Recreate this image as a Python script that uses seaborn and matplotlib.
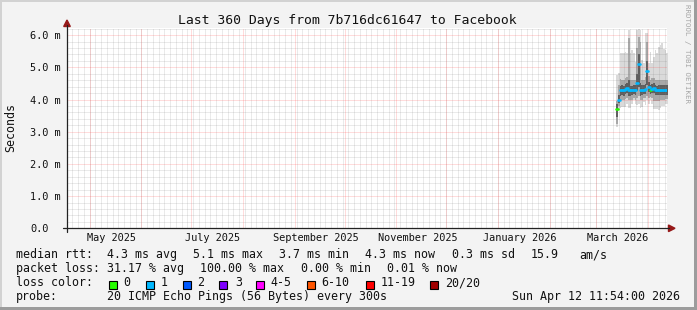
import numpy as np
import pandas as pd
import matplotlib
matplotlib.use("Agg")
import matplotlib.pyplot as plt
import matplotlib.dates as mdates
from matplotlib.patches import Rectangle, Polygon
from matplotlib.lines import Line2D
import seaborn as sns

# ---------------- data ----------------
title = "Last 360 Days from 7b716dc61647 to Facebook"
range_start = "2025-04-17 11:54"
range_end = "2026-04-12 11:54"
data_start = "2026-03-13"
n_days = 31

median_ms = [3.72, 4.00, 4.28, 4.30, 4.28, 4.33, 4.36, 4.28, 4.28, 4.29, 4.30,
             4.29, 4.50, 5.09, 4.28, 4.30, 4.31, 4.33, 4.89, 4.40, 4.30, 4.34,
             4.36, 4.30, 4.29, 4.30, 4.30, 4.30, 4.30, 4.30, 4.30]
loss_count = [0, 1, 1, 1, 1, 1, 1, 1, 1, 1, 1, 1, 1, 1, 1, 1, 1, 1, 1, 1, 0, 1,
              1, 1, 1, 1, 1, 1, 1, 1, 1]
outer_hi = [4.76, 4.81, 5.43, 5.43, 5.43, 5.48, 5.43, 6.15, 5.43, 5.53, 5.43,
            5.17, 6.15, 6.18, 6.15, 5.22, 5.12, 6.05, 6.05, 5.12, 5.48, 5.12,
            5.33, 5.53, 5.43, 5.64, 5.69, 5.74, 5.58, 5.53, 5.43]
outer_lo = [3.15, 3.67, 3.75, 3.77, 3.77, 3.77, 3.87, 3.75, 3.75, 3.87, 3.98,
            3.87, 3.82, 3.87, 3.75, 3.77, 3.93, 3.82, 3.98, 3.87, 3.98, 3.87,
            3.72, 3.72, 3.72, 3.67, 3.75, 3.79, 3.79, 3.87, 3.87]
mid_hi = [3.95, 4.45, 4.65, 4.62, 4.60, 4.66, 4.70, 5.90, 4.62, 4.60, 4.62,
          4.62, 5.60, 5.95, 5.80, 4.62, 4.62, 4.70, 5.80, 4.72, 4.62, 4.66,
          4.68, 4.62, 4.60, 4.62, 4.62, 4.62, 4.62, 4.62, 4.60]
mid_lo = [3.25, 3.80, 3.98, 4.00, 3.98, 4.02, 4.05, 3.98, 3.98, 4.00, 4.05,
          4.00, 4.05, 4.10, 3.98, 4.00, 4.05, 4.05, 4.10, 4.05, 4.08, 4.05,
          3.95, 3.95, 3.95, 3.95, 3.98, 4.00, 4.00, 4.02, 4.02]
inner_hi = [3.85, 4.15, 4.42, 4.45, 4.42, 4.48, 4.50, 4.60, 4.42, 4.42, 4.44,
            4.44, 4.80, 5.40, 4.50, 4.45, 4.46, 4.48, 5.20, 4.55, 4.44, 4.48,
            4.50, 4.44, 4.43, 4.44, 4.44, 4.44, 4.44, 4.44, 4.44]
inner_lo = [3.45, 3.88, 4.12, 4.15, 4.12, 4.18, 4.20, 4.12, 4.12, 4.14, 4.16,
            4.14, 4.25, 4.40, 4.12, 4.14, 4.16, 4.18, 4.45, 4.22, 4.16, 4.20,
            4.20, 4.15, 4.14, 4.15, 4.15, 4.15, 4.15, 4.15, 4.15]

y_ticks = [0, 1, 2, 3, 4, 5, 6]
y_tick_labels = ["0.0", "1.0 m", "2.0 m", "3.0 m", "4.0 m", "5.0 m", "6.0 m"]
x_label_dates = ["2025-05-14", "2025-07-14", "2025-09-14", "2025-11-14",
                 "2026-01-14", "2026-03-14"]
x_labels = ["May 2025", "July 2025", "September 2025", "November 2025",
            "January 2026", "March 2026"]

loss_names = ["0", "1", "2", "3", "4-5", "6-10", "11-19", "20/20"]
loss_colors = ["#26ff00", "#00b8ff", "#0059ff", "#7e00ff", "#ff00ff",
               "#ff5500", "#ff0000", "#a10000"]
loss_cat_of_count = {0: "0", 1: "1", 2: "2", 3: "3"}

legend_rows = [
    [(16, "median rtt:"), (107.3, "4.3 ms avg"), (193, "5.1 ms max"),
     (279.3, "3.7 ms min"), (365, "4.3 ms now"), (451.7, "0.3 ms sd"),
     (530.7, "15.9"), (579.3, "am/s")],
    [(16, "packet loss:"), (107.3, "31.17 % avg"), (200.5, "100.00 % max"),
     (300.7, "0.00 % min"), (386.7, "0.01 % now")],
]
loss_box_x = [108.7, 145.7, 182.7, 219.3, 256, 306.7, 366, 430]
loss_text_x = [123.3, 160.7, 197.3, 235, 270.7, 321.7, 380.7, 445]

# ---------------- figure ----------------
W, H = 697, 310
def fx(x):
    return x / W
def fy(y):
    return 1 - y / H

sns.set_theme(style="white")
plt.rcParams["font.family"] = ["DejaVu Sans Mono", "DejaVu Sans"]

fig = plt.figure(figsize=(6.97, 3.10), dpi=100, facecolor="#f3f3f3")
ax = fig.add_axes([fx(67), fy(228.3), (667 - 67) / W, (228.3 - 27.7) / H])
ax.set_facecolor("white")

t0 = mdates.date2num(pd.Timestamp(range_start))
t1 = mdates.date2num(pd.Timestamp(range_end))
days = pd.date_range(data_start, periods=n_days + 1, freq="D")
tnum = mdates.date2num(days)

# smoke
def ext(v):
    return list(v) + [v[-1]]
ax.fill_between(tnum, ext(outer_lo), ext(outer_hi), step="post",
                color="#dadada", lw=0, zorder=1)
ax.fill_between(tnum, ext(mid_lo), ext(mid_hi), step="post",
                color="#a8a8a8", lw=0, zorder=1.1)
ax.fill_between(tnum, ext(inner_lo), ext(inner_hi), step="post",
                color="#5e5e5e", lw=0, zorder=1.2)

# median segments coloured by loss
rows = []
for i, m in enumerate(median_ms):
    cat = loss_cat_of_count[loss_count[i]]
    rows.append({"t": tnum[i], "ms": m, "seg": i, "loss": cat})
    rows.append({"t": tnum[i + 1], "ms": m, "seg": i, "loss": cat})
seg_df = pd.DataFrame(rows)
sns.lineplot(data=seg_df, x="t", y="ms", units="seg", hue="loss",
             hue_order=loss_names, palette=dict(zip(loss_names, loss_colors)),
             estimator=None, legend=False, lw=1.9, ax=ax, zorder=4)

ax.set_xlim(t0, t1)
ax.set_ylim(0, 6.23)

# grid
dot = (0, (1, 1))
minor_c = (0.5, 0.5, 0.5, 0.32)
major_c = (1, 0.25, 0.25, 0.36)
for v in np.arange(0.2, 6.23, 0.2):
    if abs(v - round(v)) > 1e-6:
        ax.axhline(v, color=minor_c, lw=0.72, ls=dot, zorder=3)
may1 = mdates.date2num(pd.Timestamp("2025-05-01"))
for v in np.arange(may1 - 3 * 3.45, t1, 3.45):
    if v > t0:
        ax.axvline(v, color=minor_c, lw=0.72, ls=dot, zorder=3)
for v in y_ticks[1:]:
    ax.axhline(v, color=major_c, lw=0.72, ls=dot, zorder=3.1)
for d in pd.date_range("2025-05-01", "2026-04-01", freq="MS"):
    ax.axvline(mdates.date2num(d), color=major_c, lw=0.72,
               ls=dot, zorder=3.1)

for s in ax.spines.values():
    s.set_visible(False)

ax.set_yticks(y_ticks)
ax.set_yticklabels(y_tick_labels, fontsize=7.35, color="#111111")
ax.tick_params(axis="y", length=0, pad=26.6)
for lbl in ax.get_yticklabels():
    lbl.set_horizontalalignment("left")
ax.set_xticks([mdates.date2num(pd.Timestamp(d)) for d in x_label_dates])
ax.set_xticklabels(x_labels, fontsize=7.35, color="#111111")
ax.tick_params(axis="x", length=0, pad=3.3)
ax.set_xlabel("")
ax.set_ylabel("")

# axis lines and arrows
axc = "#222222"
arrow_c = "#961818"
fig.add_artist(Line2D([fx(63), fx(669)], [fy(228.3), fy(228.3)], color=axc,
                      lw=0.9, transform=fig.transFigure))
fig.add_artist(Line2D([fx(67), fx(67)], [fy(231.5), fy(25)], color=axc,
                      lw=0.9, transform=fig.transFigure))
fig.add_artist(Polygon([(fx(668.5), fy(225)), (fx(668.5), fy(231.6)),
                        (fx(675), fy(228.3))], closed=True, color=arrow_c,
                       transform=fig.transFigure))
fig.add_artist(Polygon([(fx(63.7), fy(26.5)), (fx(70.3), fy(26.5)),
                        (fx(67), fy(20))], closed=True, color=arrow_c,
                       transform=fig.transFigure))

# texts
fig.text(fx(347.7), fy(24), title, ha="center", va="baseline",
         fontsize=9.45, color="#111111")
fig.text(fx(10.5), fy(127.5), "Seconds", rotation=90, ha="center",
         va="center", fontsize=8.4, color="#111111")
fig.text(fx(687), fy(4), "RRDTOOL / TOBI OETIKER", rotation=270,
         ha="center", va="top", fontsize=5.4, color="#a6a6a6")

baselines = [258.3, 272, 286, 300]
for row, yb in zip(legend_rows, baselines[:2]):
    for x, s in row:
        fig.text(fx(x), fy(yb), s, ha="left", va="baseline", fontsize=8.4,
                 color="#111111")
fig.text(fx(16), fy(286), "loss color:", ha="left", va="baseline",
         fontsize=8.4, color="#111111")
for bx, tx, name, col in zip(loss_box_x, loss_text_x, loss_names, loss_colors):
    fig.add_artist(Rectangle((fx(bx), fy(289.3)), 8 / W, 8 / H, fc=col,
                             ec="black", lw=0.8, transform=fig.transFigure))
    fig.text(fx(tx), fy(286), name, ha="left", va="baseline", fontsize=8.4,
             color="#111111")
fig.text(fx(16), fy(300), "probe:", ha="left", va="baseline", fontsize=8.4,
         color="#111111")
fig.text(fx(107.3), fy(300), "20 ICMP Echo Pings (56 Bytes) every 300s",
         ha="left", va="baseline", fontsize=8.4, color="#111111")
fig.text(fx(680), fy(300), "Sun Apr 12 11:54:00 2026", ha="right",
         va="baseline", fontsize=8.4, color="#111111")

# border
fig.add_artist(Rectangle((0, fy(2)), 1, 2 / H, fc="#d2d2d2", ec="none",
                         transform=fig.transFigure))
fig.add_artist(Rectangle((0, 0), 2 / W, 1, fc="#d2d2d2", ec="none",
                         transform=fig.transFigure))
fig.add_artist(Rectangle((fx(694), 0), 3 / W, 1, fc="#9c9c9c", ec="none",
                         transform=fig.transFigure))
fig.add_artist(Rectangle((0, 0), 1, 3 / H, fc="#9c9c9c", ec="none",
                         transform=fig.transFigure))

fig.savefig("out.png", dpi=100, facecolor=fig.get_facecolor())
